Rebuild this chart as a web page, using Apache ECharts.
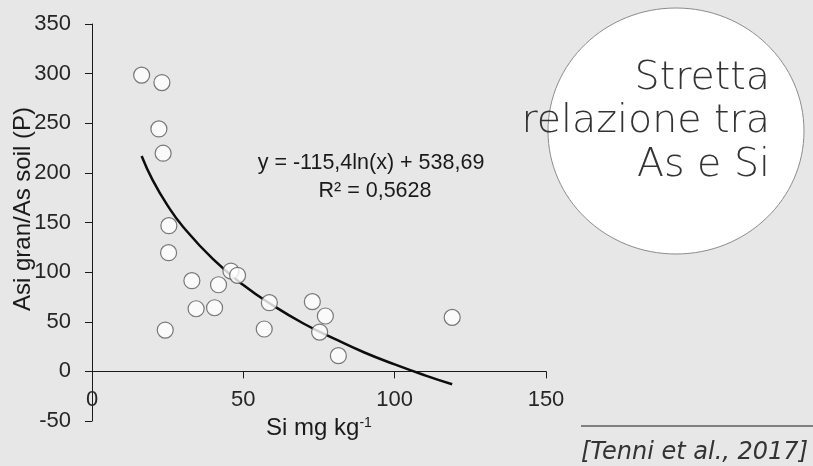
<!DOCTYPE html>
<html>
<head>
<meta charset="utf-8">
<script src="https://cdn.jsdelivr.net/npm/echarts@6/dist/echarts.min.js"></script>
<style>
  html, body { margin: 0; padding: 0; background: #e7e7e7; }
  #chart { width: 813px; height: 466px; }
</style>
</head>
<body>
<div id="chart"></div>
<script>
// Observed data (Si mg/kg vs Asi gran / As soil)
const siValues = [16.4, 23.1, 22.1, 23.5, 25.4, 25.3, 33.0, 34.4, 41.8, 40.5, 45.9, 48.1, 24.2, 58.6, 56.9, 72.8, 77.1, 75.2, 81.4, 119.0];
const ratioValues = [298.5, 291, 244.3, 219.8, 146.8, 119.6, 91.4, 63.1, 87.3, 64.1, 101.1, 96.8, 41.6, 69.2, 42.7, 70.2, 55.8, 39.6, 15.8, 54.4];
// Logarithmic trend line
const trendX = [16.4, 20, 25, 30, 40, 50, 60, 70, 80, 90, 100, 110, 119];
const trendY = [217, 193, 167, 146, 113, 87, 66, 48, 33, 19, 7, -4, -13];
// Axis ticks
const xTicks = [0, 50, 100, 150];
const yTicks = [-50, 0, 50, 100, 150, 200, 250, 300, 350];
// Texts
const xTitle = 'Si mg kg{sup|-1}';
const yTitle = 'Asi gran/As soil (P)';
const equationLines = ['y = -115,4ln(x) + 538,69', 'R² = 0,5628'];
const calloutLines = ['Stretta', 'relazione tra', 'As e Si'];
const citation = '[Tenni et al., 2017]';

const narrow = '"Liberation Sans Narrow", "Arial Narrow", sans-serif';
const gothic = '"DejaVu Sans", sans-serif';

const chart = echarts.init(document.getElementById('chart'), null, { renderer: 'canvas' });
const points = siValues.map((x, i) => [x, ratioValues[i]]);
const trend = trendX.map((x, i) => [x, trendY[i]]);

chart.setOption({
  backgroundColor: '#e7e7e7',
  animation: false,
  grid: { left: 92, right: 267, top: 24, bottom: 45, containLabel: false, outerBoundsMode: 'none' },
  xAxis: {
    type: 'value',
    min: xTicks[0], max: xTicks[xTicks.length - 1], interval: xTicks[1] - xTicks[0],
    splitLine: { show: false },
    axisLine: { onZero: true, lineStyle: { color: '#1a1a1a', width: 1 } },
    axisTick: { show: true, length: 7, lineStyle: { color: '#1a1a1a' } },
    axisLabel: { color: '#262626', fontFamily: narrow, fontSize: 22, margin: -32 },
    name: xTitle,
    nameLocation: 'middle',
    nameGap: -5,
    nameMoveOverlap: false,
    nameTextStyle: {
      color: '#1a1a1a', fontFamily: narrow, fontSize: 24,
      rich: { sup: { fontFamily: narrow, fontSize: 14, verticalAlign: 'top', color: '#1a1a1a' } }
    }
  },
  yAxis: {
    type: 'value',
    min: yTicks[0], max: yTicks[yTicks.length - 1], interval: yTicks[1] - yTicks[0],
    splitLine: { show: false },
    axisLine: { show: true, onZero: false, lineStyle: { color: '#1a1a1a', width: 1 } },
    axisTick: { show: true, length: 7, lineStyle: { color: '#1a1a1a' } },
    axisLabel: { color: '#262626', fontFamily: narrow, fontSize: 22, margin: 21 },
    name: yTitle,
    nameLocation: 'middle',
    nameRotate: 90,
    nameGap: 57,
    nameMoveOverlap: false,
    nameTextStyle: { color: '#1a1a1a', fontFamily: narrow, fontSize: 24, padding: [0, 0, 0, 27] }
  },
  series: [
    {
      type: 'line',
      data: trend,
      smooth: true,
      showSymbol: false,
      symbol: 'none',
      lineStyle: { color: '#0d0d0d', width: 2.5 },
      z: 2
    },
    {
      type: 'scatter',
      data: points,
      symbol: 'circle',
      symbolSize: 16,
      itemStyle: { color: '#ffffff', borderColor: '#595959', borderWidth: 1.2 },
      z: 3
    }
  ],
  graphic: [
    {
      type: 'text', x: 371, y: 163, z: 10,
      style: { text: equationLines[0], fill: '#1a1a1a', font: '21.5px ' + narrow, align: 'center', verticalAlign: 'middle' }
    },
    {
      type: 'text', x: 375, y: 191, z: 10,
      style: { text: equationLines[1], fill: '#1a1a1a', font: '21.5px ' + narrow, align: 'center', verticalAlign: 'middle' }
    },
    {
      type: 'ellipse', z: 5,
      shape: { cx: 676, cy: 131, rx: 128, ry: 123 },
      style: { fill: '#ffffff', stroke: '#8c8c8c', lineWidth: 1 }
    },
    {
      type: 'text', x: 770, y: 78.5, z: 6,
      style: { text: calloutLines[0], fill: '#333333', fontFamily: gothic, fontWeight: 200, fontSize: 39.5, align: 'right', verticalAlign: 'middle' }
    },
    {
      type: 'text', x: 770, y: 121.5, z: 6,
      style: { text: calloutLines[1], fill: '#333333', fontFamily: gothic, fontWeight: 200, fontSize: 39.5, align: 'right', verticalAlign: 'middle' }
    },
    {
      type: 'text', x: 770, y: 165.5, z: 6,
      style: { text: calloutLines[2], fill: '#333333', fontFamily: gothic, fontWeight: 200, fontSize: 39.5, align: 'right', verticalAlign: 'middle' }
    },
    {
      type: 'line', z: 5,
      shape: { x1: 581, y1: 426, x2: 813, y2: 426 },
      style: { stroke: '#808080', lineWidth: 2 }
    },
    {
      type: 'text', x: 808, y: 453, z: 6,
      style: { text: citation, fill: '#333333', fontFamily: gothic, fontStyle: 'italic', fontWeight: 200, fontSize: 24, align: 'right', verticalAlign: 'middle' }
    }
  ]
});
</script>
</body>
</html>
